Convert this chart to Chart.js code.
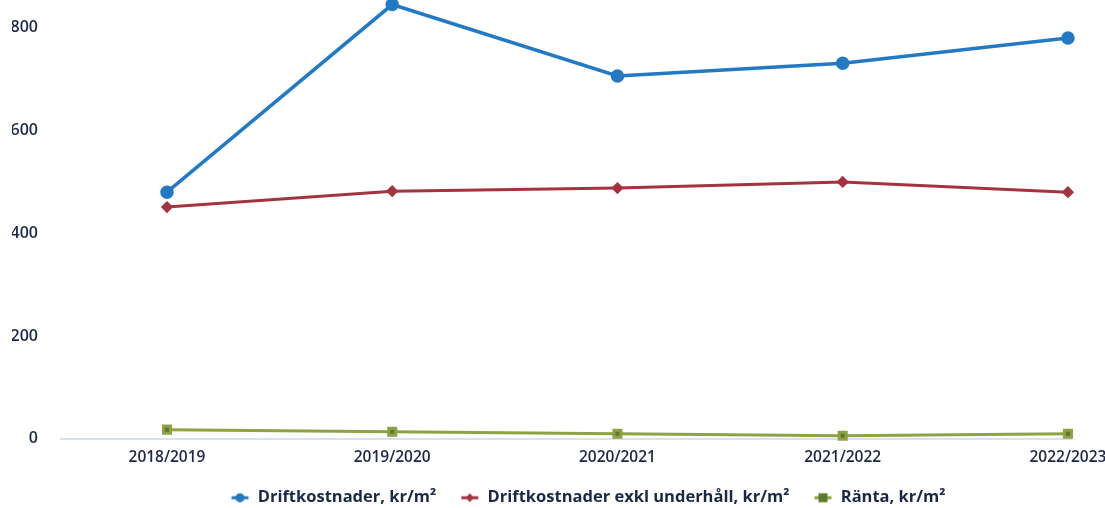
<!DOCTYPE html>
<html>
<head>
<meta charset="utf-8">
<script src="https://cdn.jsdelivr.net/npm/chart.js@4"></script>
<style>
  html, body { margin: 0; padding: 0; background: #fff; }
  #wrap { width: 1105px; height: 508px; }
</style>
</head>
<body>
<div id="wrap"><canvas id="lineChart"></canvas></div>
<script>
const years = ['2018/2019', '2019/2020', '2020/2021', '2021/2022', '2022/2023'];
const driftkostnader = [480, 845, 706, 731, 780];
const driftExklUnderhall = [451, 482, 488, 500, 480];
const ranta = [18, 14, 10, 6, 10];
const yTicks = [0, 200, 400, 600, 800];

const seriesNames = ['Driftkostnader, kr/m²', 'Driftkostnader exkl underhåll, kr/m²', 'Ränta, kr/m²'];

// legend marker: short line with the point on top, drawn at the right side of the box
function legendMarker(color, fill, style) {
    const c = document.createElement('canvas');
    c.width = 40; c.height = 12;
    const g = c.getContext('2d');
    g.strokeStyle = color;
    g.lineWidth = 3;
    g.beginPath(); g.moveTo(22, 6); g.lineTo(39, 6); g.stroke();
    g.fillStyle = fill;
    g.beginPath();
    if (style === 'circle') {
        g.arc(30.5, 6, 4.5, 0, Math.PI * 2);
    } else if (style === 'diamond') {
        g.moveTo(30.5, 1.5); g.lineTo(34.5, 6); g.lineTo(30.5, 10.5); g.lineTo(26.5, 6); g.closePath();
    } else {
        g.rect(26, 1.5, 9, 9);
    }
    g.fill();
    return c;
}

function toPoints(values) {
    return values.map((v, i) => ({ x: i, y: v }));
}

const datasets = [
    {
        label: seriesNames[0],
        data: toPoints(driftkostnader),
        borderColor: '#2379c2',
        backgroundColor: '#2379c2',
        borderWidth: 3.5,
        pointStyle: 'circle',
        pointRadius: 5,
        marker: legendMarker('#2379c2', '#2379c2', 'circle'),
    },
    {
        label: seriesNames[1],
        data: toPoints(driftExklUnderhall),
        borderColor: '#a3343f',
        backgroundColor: '#a3343f',
        borderWidth: 3,
        pointStyle: 'rectRot',
        pointRadius: 4,
        marker: legendMarker('#a3343f', '#a3343f', 'diamond'),
    },
    {
        label: seriesNames[2],
        data: toPoints(ranta),
        borderColor: '#8ea243',
        backgroundColor: '#5f7a2e',
        borderWidth: 3,
        pointStyle: 'rect',
        pointRadius: 5,
        marker: legendMarker('#8ea243', '#5f7a2e', 'square'),
    },
];

// the legend in the original sits right of centre and close to the bottom edge
const legendShift = {
    id: 'legendShift',
    afterLayout(chart) {
        const lg = chart.legend;
        lg.left += 19;
        lg.right += 19;
        lg.top += 8;
        lg.bottom += 8;
    },
};

const ctx = document.getElementById('lineChart').getContext('2d');
const lineChart = new Chart(ctx, {
    type: 'line',
    data: { datasets: datasets },
    plugins: [legendShift],
    options: {
        responsive: true,
        maintainAspectRatio: false,
        animation: false,
        clip: false,
        layout: { autoPadding: false, padding: { top: 2, right: 0, left: 12, bottom: 0 } },
        elements: {
            line: { tension: 0, fill: false },
            point: { borderWidth: 0 },
        },
        scales: {
            x: {
                type: 'linear',
                min: -0.475,
                max: 4.018,
                afterBuildTicks: axis => {
                    axis.ticks = years.map((_, i) => ({ value: i }));
                },
                afterFit: axis => {
                    axis.height += 11;
                    axis.paddingLeft = 0;
                    axis.paddingRight = 33;
                },
                ticks: {
                    callback: v => years[v],
                    color: '#1c2748',
                    font: { family: 'Open Sans', size: 15.5, weight: '600' },
                    padding: 1,
                    maxRotation: 0,
                },
                grid: { display: false },
                border: { display: false },
            },
            y: {
                min: 0,
                max: 850,
                afterBuildTicks: axis => {
                    axis.ticks = yTicks.map(v => ({ value: v }));
                },
                afterFit: axis => {
                    axis.width = 48;
                    axis.paddingTop = 0;
                    axis.paddingBottom = 0;
                },
                ticks: {
                    color: '#1c2748',
                    font: { family: 'Open Sans', size: 16, weight: '600' },
                    padding: 22,
                },
                grid: {
                    drawTicks: false,
                    lineWidth: 2,
                    color: c => (c.tick && c.tick.value === 0 ? '#d3e3f0' : 'rgba(0,0,0,0)'),
                },
                border: { display: false },
            },
        },
        plugins: {
            tooltip: { enabled: false },
            legend: {
                position: 'bottom',
                labels: {
                    usePointStyle: true,
                    pointStyleWidth: 40,
                    padding: 3,
                    color: '#1c2748',
                    font: { family: 'Open Sans', size: 16.5, weight: 'bold' },
                    generateLabels: chart => chart.data.datasets.map((ds, i) => ({
                        text: ds.label,
                        pointStyle: ds.marker,
                        fillStyle: ds.backgroundColor,
                        strokeStyle: ds.borderColor,
                        lineWidth: 0,
                        hidden: false,
                        datasetIndex: i,
                        fontColor: '#1c2748',
                    })),
                },
            },
        },
    },
});
</script>
</body>
</html>
